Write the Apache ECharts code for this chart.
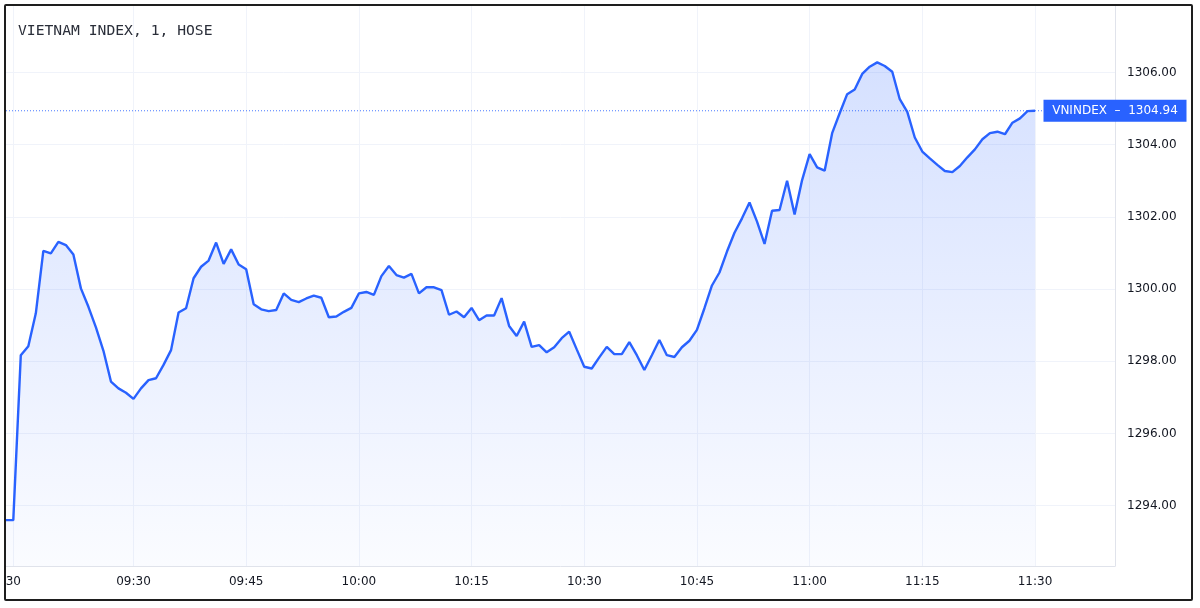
<!DOCTYPE html>
<html><head><meta charset="utf-8">
<script src="https://cdn.jsdelivr.net/npm/echarts@6/dist/echarts.min.js"></script>
<style>html,body{margin:0;padding:0;background:#fff}#c{width:1200px;height:608px}</style>
</head><body><div id="c"></div>
<script>
const chartTitle = 'VIETNAM INDEX, 1, HOSE';
const seriesName = 'VNINDEX';
const firstMinute = 13; // minutes after 09:00 of first bar
const values = [
  1293.60, 1293.60, 1298.17, 1298.42, 1299.33, 1301.06, 1300.99, 1301.31, 1301.22, 1300.96,
  1300.02, 1299.51, 1298.94, 1298.29, 1297.44, 1297.25, 1297.13, 1296.96, 1297.25, 1297.48,
  1297.53, 1297.90, 1298.31, 1299.35, 1299.47, 1300.30, 1300.62, 1300.79, 1301.29, 1300.70,
  1301.10, 1300.68, 1300.55, 1299.58, 1299.44, 1299.39, 1299.42, 1299.88, 1299.70, 1299.64,
  1299.74, 1299.82, 1299.76, 1299.22, 1299.24, 1299.37, 1299.48, 1299.88, 1299.92, 1299.84,
  1300.36, 1300.64, 1300.39, 1300.32, 1300.42, 1299.88, 1300.05, 1300.05, 1299.97, 1299.29,
  1299.38, 1299.22, 1299.48, 1299.14, 1299.27, 1299.27, 1299.75, 1298.98, 1298.70, 1299.10,
  1298.40, 1298.45, 1298.25, 1298.39, 1298.64, 1298.82, 1298.33, 1297.85, 1297.80, 1298.11,
  1298.40, 1298.20, 1298.20, 1298.53, 1298.17, 1297.76, 1298.17, 1298.59, 1298.17, 1298.12,
  1298.39, 1298.57, 1298.87, 1299.47, 1300.10, 1300.46, 1301.04, 1301.56, 1301.96, 1302.40,
  1301.87, 1301.25, 1302.17, 1302.19, 1303.00, 1302.07, 1303.02, 1303.74, 1303.37, 1303.28,
  1304.32, 1304.87, 1305.40, 1305.53, 1305.96, 1306.16, 1306.28, 1306.18, 1306.02, 1305.26,
  1304.91, 1304.20, 1303.81, 1303.62, 1303.44, 1303.27, 1303.24, 1303.41, 1303.65, 1303.87,
  1304.15, 1304.32, 1304.36, 1304.29, 1304.61, 1304.73, 1304.93, 1304.94
];
const xTickMinutes = [14, 30, 45, 60, 75, 90, 105, 120, 135, 150];
const dayLabel = '30';
const yTicks = [1294, 1296, 1298, 1300, 1302, 1304, 1306];

const X_MIN = 13.03, X_MAX = 160.65;
const Y_MIN = 1292.33, Y_MAX = 1307.842;

const lineData = values.map((v, i) => [firstMinute + i, v]);
const lastValue = values[values.length - 1];

function fmtMinute(m) {
  if (m === xTickMinutes[0]) return dayLabel;
  const h = 9 + Math.floor(m / 60), mm = m % 60;
  return (h < 10 ? '0' : '') + h + ':' + (mm < 10 ? '0' : '') + mm;
}

const chart = echarts.init(document.getElementById('c'), null, {renderer: 'canvas'});
const gridColor = '#f0f3fa';
chart.setOption({
  animation: false,
  backgroundColor: '#ffffff',
  title: {
    text: chartTitle, left: 13, top: 19,
    textStyle: {fontFamily: 'DejaVu Sans Mono', fontSize: 14.7, fontWeight: 'normal', color: '#2a2e39'}
  },
  grid: {left: 6, right: 85, top: 6, bottom: 42, containLabel: false},
  xAxis: {
    type: 'value', min: X_MIN, max: X_MAX,
    axisLine: {show: true, lineStyle: {color: '#e0e3eb', width: 1}},
    axisTick: {show: false, customValues: xTickMinutes},
    splitLine: {show: true, lineStyle: {color: gridColor, width: 1}},
    axisLabel: {
      customValues: xTickMinutes, formatter: v => fmtMinute(v),
      color: '#131722', fontFamily: 'DejaVu Sans', fontSize: 12, margin: 10
    }
  },
  yAxis: {
    type: 'value', position: 'right', min: Y_MIN, max: Y_MAX, scale: true,
    axisLine: {show: true, lineStyle: {color: '#e0e3eb', width: 1}},
    axisTick: {show: false, customValues: yTicks},
    splitLine: {show: true, lineStyle: {color: gridColor, width: 1}},
    axisLabel: {
      customValues: yTicks, formatter: v => v.toFixed(2),
      color: '#131722', fontFamily: 'DejaVu Sans', fontSize: 12, margin: 12
    }
  },
  graphic: [{
    type: 'rect', z: 100, silent: true,
    shape: {x: 5, y: 5, width: 1187, height: 595, r: 1},
    style: {fill: 'none', stroke: '#1e1e1e', lineWidth: 2}
  }],
  series: [{
    name: seriesName, type: 'line', data: lineData,
    showSymbol: false, symbol: 'none', smooth: false, z: 3,
    lineStyle: {color: '#2962FF', width: 2.4},
    areaStyle: {
      origin: 'start',
      color: new echarts.graphic.LinearGradient(0, 0, 0, 1, [
        {offset: 0, color: 'rgba(41,98,255,0.28)'},
        {offset: 1, color: 'rgba(41,98,255,0.03)'}
      ])
    }
  }, {
    name: 'priceLine', type: 'line', z: 4, silent: true,
    data: [[X_MIN, lastValue], [X_MAX, lastValue]],
    showSymbol: false, symbol: 'none',
    lineStyle: {color: '#2962FF', width: 1, type: [1, 2], opacity: 0.85}
  }, {
    name: 'badge', type: 'scatter', z: 20, clip: false, silent: true,
    data: [[X_MAX, lastValue]],
    symbol: 'rect', symbolSize: [143, 22],
    itemStyle: {color: '#2962FF', opacity: 1},
    label: {
      show: true, position: 'inside',
      formatter: seriesName + '  \u2013  ' + lastValue.toFixed(2),
      color: '#ffffff', fontFamily: 'DejaVu Sans', fontSize: 12
    }
  }]
});
</script></body></html>
